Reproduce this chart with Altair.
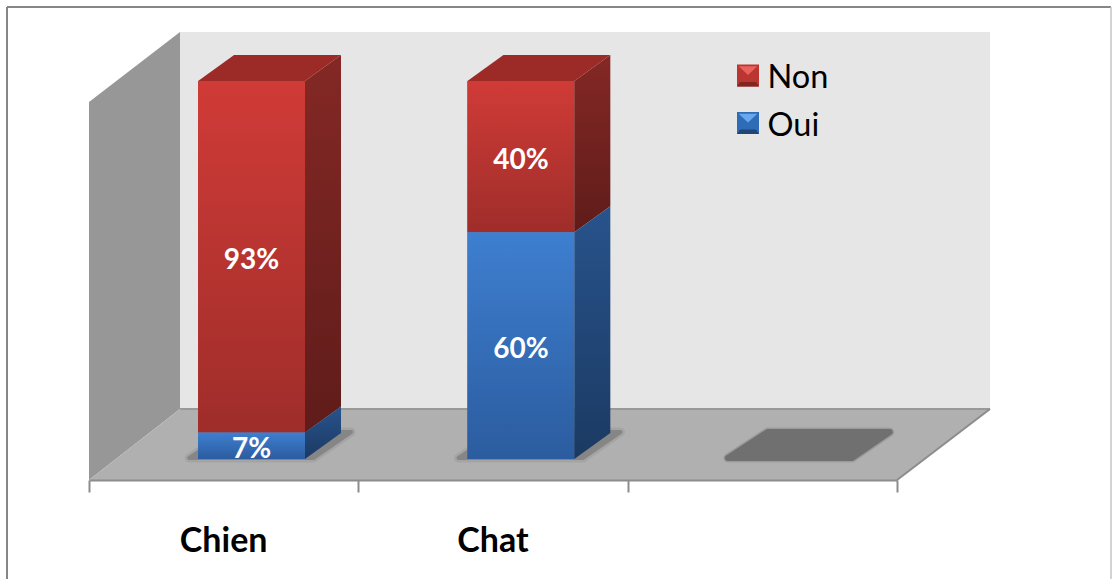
import altair as alt
import pandas as pd

categories = ["Chien", "Chat"]
oui_values = [7, 60]
non_values = [93, 40]
shadow_slots = [0, 1, 2]
legend_names = ["Non", "Oui"]

PX_X = 269.33   # pixels per category slot
PX_Y = 3.78     # pixels per percentage point
DX = 36 / PX_X  # bar depth, expressed on the x scale
DY = 26 / PX_Y  # bar depth, expressed on the y scale
BAR_L, BAR_R = 0.405, 0.802


def ux(px):
    return (px - 89) / PX_X


def uy(py):
    return (459 - py) / PX_Y


def grad(top, bottom):
    return alt.Gradient(
        gradient="linear", x1=0, y1=0, x2=0, y2=1,
        stops=[alt.GradientStop(offset=0, color=top),
               alt.GradientStop(offset=1, color=bottom)],
    )


# Stacked segments: Oui sits at the bottom, Non above it
rows = []
for i, cat in enumerate(categories):
    rows.append(dict(cat=cat, slot=i, Série="Oui", low=0, high=oui_values[i], val=oui_values[i]))
    rows.append(dict(cat=cat, slot=i, Série="Non", low=oui_values[i], high=oui_values[i] + non_values[i], val=non_values[i]))
seg = pd.DataFrame(rows)
seg["x0"] = seg.slot + BAR_L
seg["x1"] = seg.slot + BAR_R
seg["mid"] = (seg.low + seg.high) / 2
seg["xc"] = (seg.x0 + seg.x1) / 2
seg["label"] = seg.val.astype(str) + "%"
seg["key"] = seg.cat + seg["Série"]

# Side face of each segment, receding up and to the right
side = pd.concat([
    seg.assign(sx=seg.x1, sy=seg.low, sy2=seg.high),
    seg.assign(sx=seg.x1 + DX, sy=seg.low + DY, sy2=seg.high + DY),
])

# Top face of each stack
tops = pd.concat([
    pd.DataFrame(dict(slot=[0, 1], ty=100.0, tx=[BAR_L, 1 + BAR_L], tx2=[BAR_R, 1 + BAR_R])),
    pd.DataFrame(dict(slot=[0, 1], ty=100.0 + DY, tx=[BAR_L + DX, 1 + BAR_L + DX], tx2=[BAR_R + DX, 1 + BAR_R + DX])),
])

# The one x axis shared by every layer: category boundaries with ticks, labels drawn as text
x_axis = alt.Axis(values=[0, 1, 2, 3], labels=False, grid=False, domainColor="#8c8c8c",
                  domainWidth=2, tickColor="#8c8c8c", tickWidth=2, tickSize=12, title=None, zindex=1)
x_scale = alt.Scale(domain=[0, 3], nice=False, zero=False)
y_scale = alt.Scale(domain=[uy(480), 100], nice=False, zero=False)


def qx(field):
    return alt.X(field, scale=x_scale, axis=x_axis, title=None)


def qy(field):
    return alt.Y(field, scale=y_scale, axis=None, title=None, stack=None)


# Walls and floor of the 3D box
back_wall = alt.Chart(pd.DataFrame(dict(x=[ux(180)], x2=[ux(990)], y=[uy(409)], y2=[uy(32)]))).mark_rect(
    color="#e6e6e6").encode(x=qx("x:Q"), x2="x2:Q", y=qy("y:Q"), y2="y2:Q")

left_wall = alt.Chart(pd.DataFrame(dict(x=[ux(89), ux(180)], y=[uy(480), uy(409)], y2=[uy(102), uy(32)]))).mark_area(
    color="#979797").encode(x=qx("x:Q"), y=qy("y:Q"), y2="y2:Q")

floor = alt.Chart(pd.DataFrame(dict(y=[uy(480), uy(409)], x=[ux(89), ux(180)], x2=[ux(897), ux(990)]))).mark_area(
    orient="horizontal", color="#b0b0b0").encode(x=qx("x:Q"), x2="x2:Q", y=qy("y:Q"))

floor_back = alt.Chart(pd.DataFrame(dict(x=[ux(180)], x2=[ux(990)], y=[uy(409)]))).mark_rule(
    color="#999999", strokeWidth=2).encode(x=qx("x:Q"), x2="x2:Q", y=qy("y:Q"))
floor_side = alt.Chart(pd.DataFrame(dict(x=[ux(897)], x2=[ux(990)], y=[uy(480)], y2=[uy(409)]))).mark_rule(
    color="#8c8c8c", strokeWidth=2).encode(x=qx("x:Q"), x2="x2:Q", y=qy("y:Q"), y2="y2:Q")

# Soft shadows under each slot: the empty slot's is the darkest, those under bars fade out
sh = pd.concat([
    pd.DataFrame(dict(slot=shadow_slots, y=uy(458.0), x=[s + 0.372 for s in shadow_slots], x2=[s + 0.833 for s in shadow_slots])),
    pd.DataFrame(dict(slot=shadow_slots, y=uy(432.0), x=[s + 0.520 for s in shadow_slots], x2=[s + 0.973 for s in shadow_slots])),
])


def shadow_layer(rows, fill, edge, width, alpha):
    return alt.Chart(rows).mark_area(orient="horizontal", color=fill, stroke=edge, strokeWidth=width,
                                     strokeJoin="round", opacity=alpha).encode(
        x=qx("x:Q"), x2="x2:Q", y=qy("y:Q"), detail="slot:N")


under_bars = sh[sh.slot < 2]
empty_slot = sh[sh.slot == 2]
shadow_layers = [
    shadow_layer(under_bars, "#8a8a8a", "#9a9a9a", 9, 0.5),
    shadow_layer(under_bars, "#868686", "#868686", 4, 1),
    shadow_layer(empty_slot, "#7f7f7f", "#8c8c8c", 9, 0.55),
    shadow_layer(empty_slot, "#707070", "#707070", 6, 1),
]

# The colour scale carries the legend; its swatches are redrawn with a bevel further down
flat_front = alt.Chart(seg).mark_bar().encode(
    x=qx("x0:Q"), x2="x1:Q", y=qy("low:Q"), y2="high:Q",
    color=alt.Color("Série:N",
                    scale=alt.Scale(domain=legend_names, range=["#c23733", "#3a78c6"]),
                    legend=alt.Legend(title=None, orient="none", legendX=644, legendY=-19, padding=0,
                                      symbolType="square", symbolSize=484, symbolOpacity=0,
                                      labelFont="Lato", labelFontSize=32.5, labelColor="#000000",
                                      labelOffset=2, rowPadding=15)),
)


def front(series, top, bottom):
    return alt.Chart(seg[seg["Série"] == series]).mark_bar(color=grad(top, bottom)).encode(
        x=qx("x0:Q"), x2="x1:Q", y=qy("low:Q"), y2="high:Q")


def side_face(series, top, bottom):
    return alt.Chart(side[side["Série"] == series]).mark_area(color=grad(top, bottom)).encode(
        x=qx("sx:Q"), y=qy("sy:Q"), y2="sy2:Q", detail="key:N")


top_face = alt.Chart(tops).mark_area(orient="horizontal", color="#9c2b28").encode(
    x=qx("tx:Q"), x2="tx2:Q", y=qy("ty:Q"), detail="slot:N")

value_labels = alt.Chart(seg).mark_text(font="Lato", fontWeight="bold", fontSize=28, color="#ffffff", dy=4).encode(
    x=qx("xc:Q"), y=qy("mid:Q"), text="label:N")

cat_labels = alt.Chart(pd.DataFrame(dict(cat=categories, xc=[0.5, 1.5]))).mark_text(
    font="Lato", fontWeight="bold", fontSize=34, color="#000000").encode(
    x=qx("xc:Q"), y=alt.value(461), text="cat:N")


# Legend swatch with a lighter upper bevel and a darker lower edge
def swatch(name, py, base, hi, lo):
    one = alt.Chart(pd.DataFrame(dict(name=[name])))
    square = one.mark_point(shape="M-1,-1L1,-1L1,1L-1,1Z", size=484, filled=True, opacity=1, color=base).encode(
        x=alt.value(659), y=alt.value(py))
    upper = one.mark_point(shape="M-0.85,-0.85L0.85,-0.85L0,-0.05Z", size=484, filled=True, opacity=1, color=hi).encode(
        x=alt.value(659), y=alt.value(py))
    lower = one.mark_point(shape="M-1,1L1,1L0.72,0.58L-0.72,0.58Z", size=484, filled=True, opacity=1, color=lo).encode(
        x=alt.value(659), y=alt.value(py))
    return [square, upper, lower]


swatch_layers = swatch("Non", -5.5, "#bb3531", "#e8615c", "#7f2623") + swatch("Oui", 42, "#2f6cb8", "#6aa8ee", "#1f4675")

# Outer frame of the chart
frame_top = alt.Chart(pd.DataFrame(dict(k=[0]))).mark_rule(color="#868686", strokeWidth=2).encode(
    x=alt.value(-82), x2=alt.value(1022), y=alt.value(-74))
frame_left = alt.Chart(pd.DataFrame(dict(k=[0]))).mark_rule(color="#868686", strokeWidth=2).encode(
    x=alt.value(-82), y=alt.value(-74), y2=alt.value(498))
frame_right = alt.Chart(pd.DataFrame(dict(k=[0]))).mark_rule(color="#c4c4c4", strokeWidth=1.5).encode(
    x=alt.value(1022), y=alt.value(-74), y2=alt.value(498))

chart = alt.layer(
    back_wall, left_wall, floor, floor_back, floor_side, *shadow_layers,
    flat_front,
    front("Non", "#d03b37", "#9f2d2a"), front("Oui", "#3e7fd0", "#2b5c9f"),
    side_face("Non", "#842825", "#5f1c1a"), side_face("Oui", "#28538c", "#1b3a62"),
    top_face, value_labels, cat_labels, *swatch_layers,
    frame_top, frame_left, frame_right,
).properties(
    width=808, height=399, autosize="none",
    padding={"left": 89, "top": 81, "right": 215, "bottom": 99},
    background="#ffffff",
).configure_view(stroke=None)

chart.save("out.html", embed_options={"renderer": "svg", "actions": False})
